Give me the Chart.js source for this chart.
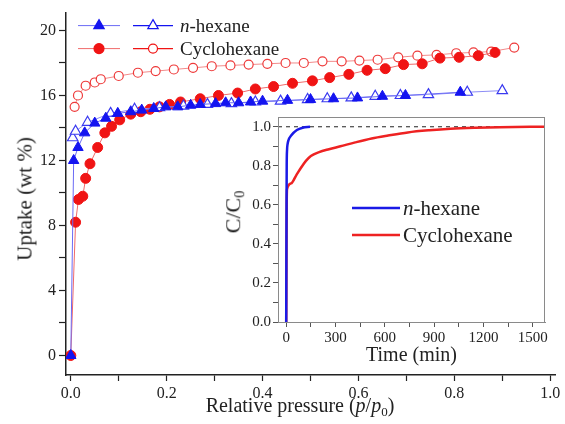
<!DOCTYPE html>
<html>
<head>
<meta charset="utf-8">
<script src="https://cdn.jsdelivr.net/npm/chart.js@4"></script>
<style>
  body { margin: 0; background: #fff; }
  #wrap { position: relative; width: 565px; height: 424px; font-family: 'Liberation Serif', serif; color: #222; }
  #main { position: absolute; left: 0; top: 0; }
  #inset { position: absolute; left: 215px; top: 105px; }
  .ttl { position: absolute; white-space: nowrap; transform: translate(-50%, -50%); }
  .rot { transform: translate(-50%, -50%) rotate(-90deg); }
  sub { font-size: 65%; vertical-align: -0.25em; }
</style>
</head>
<body>
<div id="wrap">
  <canvas id="main" width="565" height="424"></canvas>
  <canvas id="inset" width="345" height="265"></canvas>
  <div class="ttl rot" style="left:25px; top:199px; font-size:21px;">Uptake (wt %)</div>
  <div class="ttl" style="left:300px; top:407px; font-size:20px;">Relative pressure (<i>p</i>/<i>p</i><sub>0</sub>)</div>
  <div class="ttl rot" style="left:234px; top:212px; font-size:22px;">C/C<sub>0</sub></div>
</div>
<script>
// isotherms: relative pressure vs uptake (wt %)
var hexAdsP = [0, 0.006, 0.015, 0.029, 0.05, 0.073, 0.098, 0.125, 0.148, 0.173, 0.198, 0.223, 0.25, 0.27, 0.302, 0.323, 0.35, 0.375, 0.4, 0.452, 0.5, 0.548, 0.598, 0.65, 0.698, 0.8125];
var hexAdsU = [0, 12.0, 12.8, 13.7, 14.3, 14.6, 14.9, 15.0, 15.1, 15.2, 15.3, 15.3, 15.4, 15.45, 15.5, 15.55, 15.55, 15.6, 15.65, 15.7, 15.75, 15.8, 15.85, 15.95, 16.0, 16.2];
var hexDesP = [0.004, 0.01, 0.035, 0.083, 0.133, 0.185, 0.235, 0.285, 0.335, 0.385, 0.4375, 0.494, 0.535, 0.585, 0.635, 0.6875, 0.746, 0.827, 0.9];
var hexDesU = [13.4, 13.8, 14.35, 14.9, 15.15, 15.25, 15.35, 15.45, 15.5, 15.6, 15.65, 15.75, 15.8, 15.85, 15.95, 16.0, 16.05, 16.2, 16.3];
var cycAdsP = [0, 0.01, 0.016, 0.025, 0.031, 0.04, 0.056, 0.071, 0.085, 0.102, 0.125, 0.146, 0.165, 0.185, 0.206, 0.229, 0.27, 0.308, 0.348, 0.385, 0.423, 0.4625, 0.504, 0.54, 0.58, 0.618, 0.656, 0.694, 0.733, 0.77, 0.81, 0.85, 0.885];
var cycAdsU = [0, 8.2, 9.6, 9.8, 10.9, 11.8, 12.8, 13.7, 14.1, 14.5, 14.85, 15.0, 15.15, 15.3, 15.45, 15.6, 15.8, 16.0, 16.15, 16.4, 16.55, 16.75, 16.9, 17.1, 17.3, 17.55, 17.65, 17.9, 17.95, 18.3, 18.35, 18.45, 18.65];
var cycDesP = [0.008, 0.015, 0.031, 0.05, 0.0625, 0.1, 0.14, 0.177, 0.215, 0.255, 0.294, 0.333, 0.371, 0.41, 0.448, 0.486, 0.525, 0.565, 0.602, 0.64, 0.683, 0.723, 0.763, 0.804, 0.84, 0.877, 0.925];
var cycDesU = [15.3, 16.0, 16.6, 16.8, 17.0, 17.2, 17.4, 17.5, 17.6, 17.7, 17.8, 17.85, 17.9, 17.95, 18.0, 18.0, 18.1, 18.1, 18.15, 18.2, 18.35, 18.45, 18.5, 18.6, 18.65, 18.7, 18.95];

// breakthrough curves: time (min) vs C/C0
var hexTime = [0, 1, 2, 3, 5, 8, 14, 30, 65, 100, 145];
var hexConc = [0, 0.3, 0.6, 0.8, 0.88, 0.91, 0.932, 0.955, 0.983, 0.995, 1.0];
var cycTime = [0, 1, 2, 3, 5, 30, 60, 90, 120, 150, 200, 260, 330, 420, 520, 620, 740, 870, 1000, 1150, 1300, 1575];
var cycConc = [0, 0.2, 0.45, 0.6, 0.68, 0.71, 0.75, 0.79, 0.825, 0.85, 0.87, 0.885, 0.9, 0.92, 0.94, 0.955, 0.971, 0.982, 0.99, 0.995, 0.998, 1.0];
var refLevel = 1.0;

// ticks
var mainXTicks = [0, 0.1, 0.2, 0.3, 0.4, 0.5, 0.6, 0.7, 0.8, 0.9, 1.0];
var mainYTicks = [0, 2, 4, 6, 8, 10, 12, 14, 16, 18, 20];
var insetXTicks = [0, 150, 300, 450, 600, 750, 900, 1050, 1200, 1350, 1500];
var insetYTicks = [0, 0.1, 0.2, 0.3, 0.4, 0.5, 0.6, 0.7, 0.8, 0.9, 1.0];

var BLUE = '#1414f0';
var RED = '#f01414';

Chart.defaults.font.family = "'Liberation Serif', serif";
Chart.defaults.color = '#222';

function pts(xs, ys) {
  return xs.map(function (x, i) { return { x: x, y: ys[i] }; });
}

function setTicks(list) {
  return function (scale) {
    scale.ticks = list.map(function (v) { return { value: v }; });
  };
}

function mark(ctx, style, x, y, r, fill, stroke) {
  ctx.beginPath();
  if (style === 'triangle') {
    ctx.moveTo(x, y - r);
    ctx.lineTo(x + r * 0.866, y + r * 0.5);
    ctx.lineTo(x - r * 0.866, y + r * 0.5);
    ctx.closePath();
  } else {
    ctx.arc(x, y, r, 0, Math.PI * 2);
  }
  ctx.fillStyle = fill;
  ctx.fill();
  ctx.strokeStyle = stroke;
  ctx.lineWidth = 1.2;
  ctx.stroke();
}

function italicLabel(ctx, x, y, prefix, rest, size) {
  ctx.fillStyle = '#222';
  ctx.textBaseline = 'middle';
  ctx.textAlign = 'left';
  if (prefix) {
    ctx.font = 'italic ' + size + "px 'Liberation Serif'";
    ctx.fillText(prefix, x, y);
    x += ctx.measureText(prefix).width;
  }
  ctx.font = size + "px 'Liberation Serif'";
  ctx.fillText(rest, x, y);
}

var mainLegend = {
  id: 'mainLegend',
  afterDraw: function (chart) {
    var ctx = chart.ctx;
    var a = chart.chartArea;
    var rows = [
      { pre: 'n', txt: '-hexane', style: 'triangle', col: BLUE, line: '#6a6af5', r: 6 },
      { pre: '', txt: 'Cyclohexane', style: 'circle', col: RED, line: '#f06a6a', r: 5 }
    ];
    ctx.save();
    rows.forEach(function (row, i) {
      var y = a.top + 13 + i * 23;
      var x0 = a.left + 12;
      ctx.strokeStyle = row.line;
      ctx.lineWidth = 1;
      ctx.beginPath(); ctx.moveTo(x0, y); ctx.lineTo(x0 + 42, y); ctx.stroke();
      mark(ctx, row.style, x0 + 21, y, row.r, row.col, row.col);
      ctx.beginPath(); ctx.moveTo(x0 + 55, y); ctx.lineTo(x0 + 95, y); ctx.stroke();
      mark(ctx, row.style, x0 + 75, y, row.style === 'circle' ? 4.5 : 6, '#fff', row.col);
      italicLabel(ctx, x0 + 102, y + 1, row.pre, row.txt, 19);
    });
    ctx.restore();
  }
};

var insetDeco = {
  id: 'insetDeco',
  beforeDatasetsDraw: function (chart) {
    var ctx = chart.ctx;
    var a = chart.chartArea;
    var yy = chart.scales.y.getPixelForValue(refLevel);
    ctx.save();
    ctx.strokeStyle = '#222';
    ctx.lineWidth = 1;
    ctx.setLineDash([4, 4]);
    ctx.beginPath(); ctx.moveTo(a.left, yy); ctx.lineTo(a.right, yy); ctx.stroke();
    ctx.restore();
  },
  afterDraw: function (chart) {
    var ctx = chart.ctx;
    var a = chart.chartArea;
    ctx.save();
    ctx.strokeStyle = '#8a8a8a';
    ctx.lineWidth = 1;
    ctx.strokeRect(a.left + 0.5, a.top + 0.5, a.right - a.left - 1, a.bottom - a.top);
    var rows = [
      { pre: 'n', txt: '-hexane', col: '#1a1ae6' },
      { pre: '', txt: 'Cyclohexane', col: '#ee2222' }
    ];
    rows.forEach(function (row, i) {
      var y = a.top + 91 + i * 27;
      var x0 = a.left + 74;
      ctx.strokeStyle = row.col;
      ctx.lineWidth = 2.5;
      ctx.beginPath(); ctx.moveTo(x0, y); ctx.lineTo(x0 + 48, y); ctx.stroke();
      italicLabel(ctx, x0 + 51, y + 1, row.pre, row.txt, 21);
    });
    ctx.restore();
  }
};

new Chart(document.getElementById('main').getContext('2d'), {
  type: 'scatter',
  data: {
    datasets: [
      { data: pts(hexAdsP, hexAdsU), showLine: true, borderColor: '#6a6af5', borderWidth: 1,
        pointStyle: 'triangle', pointRadius: 6, pointBackgroundColor: BLUE, pointBorderColor: BLUE, pointBorderWidth: 1 },
      { data: pts(hexDesP, hexDesU), showLine: true, borderColor: '#8c8cf5', borderWidth: 1,
        pointStyle: 'triangle', pointRadius: 6, pointBackgroundColor: '#fff', pointBorderColor: '#3a3af0', pointBorderWidth: 1.2 },
      { data: pts(cycAdsP, cycAdsU), showLine: true, borderColor: '#f06a6a', borderWidth: 1,
        pointStyle: 'circle', pointRadius: 5, pointBackgroundColor: RED, pointBorderColor: RED, pointBorderWidth: 1 },
      { data: pts(cycDesP, cycDesU), showLine: true, borderColor: '#f28a8a', borderWidth: 1,
        pointStyle: 'circle', pointRadius: 4.5, pointBackgroundColor: '#fff', pointBorderColor: '#ee3a3a', pointBorderWidth: 1.2 }
    ]
  },
  options: {
    responsive: false,
    animation: false,
    devicePixelRatio: 1,
    layout: { padding: { left: 0, right: 10, top: 12, bottom: 0 } },
    plugins: { legend: { display: false }, tooltip: { enabled: false } },
    scales: {
      x: {
        type: 'linear', min: -0.01, max: 1.01,
        afterBuildTicks: setTicks(mainXTicks),
        afterFit: function (s) { s.height = 49; },
        border: { display: true, color: '#222', width: 1.5 },
        grid: { drawOnChartArea: false, drawTicks: true, tickLength: 6, tickColor: '#222', tickWidth: 1.2 },
        ticks: {
          padding: 3, font: { size: 16 }, color: '#222', autoSkip: false, maxRotation: 0,
          callback: function (v) { return Math.round(v * 10) % 2 === 0 ? v.toFixed(1) : ''; }
        }
      },
      y: {
        type: 'linear', min: -1.2, max: 21.1,
        afterBuildTicks: setTicks(mainYTicks),
        afterFit: function (s) { s.width = 66; },
        border: { display: true, color: '#222', width: 1.5 },
        grid: { drawOnChartArea: false, drawTicks: true, tickLength: 7, tickColor: '#222', tickWidth: 1.2 },
        ticks: {
          padding: 3, font: { size: 16 }, color: '#222', autoSkip: false,
          callback: function (v) { return v % 4 === 0 ? String(v) : ''; }
        }
      }
    }
  },
  plugins: [mainLegend]
});

new Chart(document.getElementById('inset').getContext('2d'), {
  type: 'scatter',
  data: {
    datasets: [
      { data: pts(hexTime, hexConc), showLine: true, borderColor: '#1a1ae6', borderWidth: 2.5,
        pointRadius: 0, cubicInterpolationMode: 'monotone' },
      { data: pts(cycTime, cycConc), showLine: true, borderColor: '#ee2222', borderWidth: 2.5,
        pointRadius: 0, cubicInterpolationMode: 'monotone' }
    ]
  },
  options: {
    responsive: false,
    animation: false,
    devicePixelRatio: 1,
    layout: { padding: { left: 0, right: 15, top: 12, bottom: 0 } },
    plugins: { legend: { display: false }, tooltip: { enabled: false } },
    scales: {
      x: {
        type: 'linear', min: -50, max: 1575,
        afterBuildTicks: setTicks(insetXTicks),
        afterFit: function (s) { s.height = 48; },
        border: { display: true, color: '#8a8a8a', width: 1 },
        grid: { drawOnChartArea: false, drawTicks: true, tickLength: 5, tickColor: '#555' },
        title: { display: true, text: 'Time (min)', font: { size: 20 }, color: '#222', padding: { top: 0, bottom: 2 } },
        ticks: {
          padding: 2, font: { size: 15 }, color: '#222', autoSkip: false, maxRotation: 0,
          callback: function (v) { return v % 300 === 0 ? String(v) : ''; }
        }
      },
      y: {
        type: 'linear', min: 0, max: 1.05,
        afterBuildTicks: setTicks(insetYTicks),
        afterFit: function (s) { s.width = 63; },
        border: { display: true, color: '#8a8a8a', width: 1 },
        grid: { drawOnChartArea: false, drawTicks: true, tickLength: 5, tickColor: '#555' },
        ticks: {
          padding: 2, font: { size: 15 }, color: '#222', autoSkip: false,
          callback: function (v) { return Math.round(v * 10) % 2 === 0 ? v.toFixed(1) : ''; }
        }
      }
    }
  },
  plugins: [insetDeco]
});
</script>
</body>
</html>
